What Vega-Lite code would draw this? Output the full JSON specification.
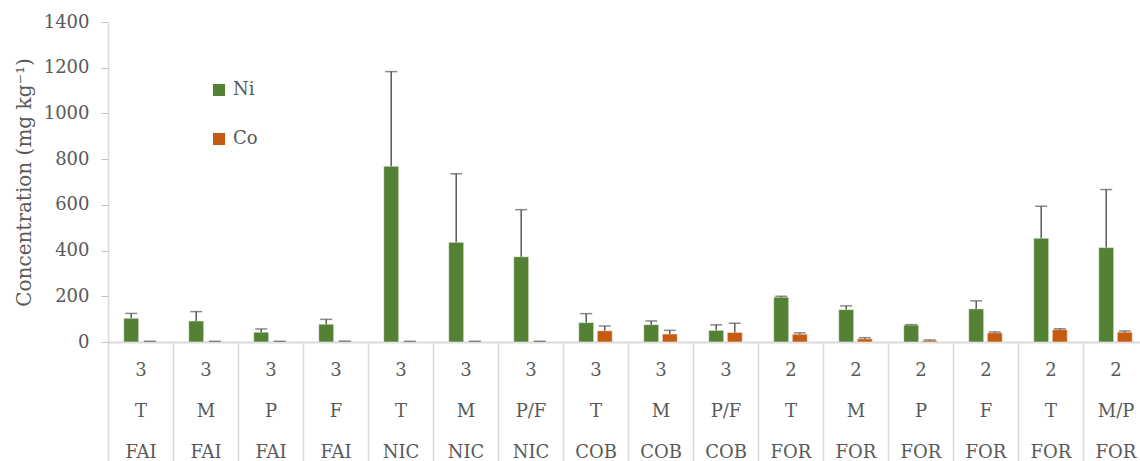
{
  "$schema": "https://vega.github.io/schema/vega-lite/v6.json",
  "width": 1032,
  "height": 320,
  "autosize": {"type": "none"},
  "padding": {"left": 108, "top": 22, "right": 0, "bottom": 119},
  "background": "white",
  "config": {"view": {"stroke": null}, "font": "DejaVu Serif"},
  "data": {
    "values": [
      {"cat": "01|3|T|FAI", "el": "Ni", "value": 104, "hi": 125},
      {"cat": "01|3|T|FAI", "el": "Co", "value": 2, "hi": 3},
      {"cat": "02|3|M|FAI", "el": "Ni", "value": 92, "hi": 133},
      {"cat": "02|3|M|FAI", "el": "Co", "value": 2, "hi": 3},
      {"cat": "03|3|P|FAI", "el": "Ni", "value": 43, "hi": 57},
      {"cat": "03|3|P|FAI", "el": "Co", "value": 2, "hi": 3},
      {"cat": "04|3|F|FAI", "el": "Ni", "value": 78, "hi": 99},
      {"cat": "04|3|F|FAI", "el": "Co", "value": 3, "hi": 4},
      {"cat": "05|3|T|NIC", "el": "Ni", "value": 769, "hi": 1183},
      {"cat": "05|3|T|NIC", "el": "Co", "value": 2, "hi": 3},
      {"cat": "06|3|M|NIC", "el": "Ni", "value": 436, "hi": 736},
      {"cat": "06|3|M|NIC", "el": "Co", "value": 2, "hi": 3},
      {"cat": "07|3|P/F|NIC", "el": "Ni", "value": 373, "hi": 579},
      {"cat": "07|3|P/F|NIC", "el": "Co", "value": 2, "hi": 3},
      {"cat": "08|3|T|COB", "el": "Ni", "value": 85, "hi": 124},
      {"cat": "08|3|T|COB", "el": "Co", "value": 49, "hi": 70},
      {"cat": "09|3|M|COB", "el": "Ni", "value": 76, "hi": 92},
      {"cat": "09|3|M|COB", "el": "Co", "value": 35, "hi": 51},
      {"cat": "10|3|P/F|COB", "el": "Ni", "value": 51, "hi": 75},
      {"cat": "10|3|P/F|COB", "el": "Co", "value": 42, "hi": 82},
      {"cat": "11|2|T|FOR", "el": "Ni", "value": 196, "hi": 200},
      {"cat": "11|2|T|FOR", "el": "Co", "value": 34, "hi": 40},
      {"cat": "12|2|M|FOR", "el": "Ni", "value": 142, "hi": 158},
      {"cat": "12|2|M|FOR", "el": "Co", "value": 14, "hi": 19},
      {"cat": "13|2|P|FOR", "el": "Ni", "value": 74, "hi": 76},
      {"cat": "13|2|P|FOR", "el": "Co", "value": 6, "hi": 9},
      {"cat": "14|2|F|FOR", "el": "Ni", "value": 145, "hi": 180},
      {"cat": "14|2|F|FOR", "el": "Co", "value": 40, "hi": 44},
      {"cat": "15|2|T|FOR", "el": "Ni", "value": 454, "hi": 594},
      {"cat": "15|2|T|FOR", "el": "Co", "value": 54, "hi": 58},
      {"cat": "16|2|M/P|FOR", "el": "Ni", "value": 413, "hi": 667},
      {"cat": "16|2|M/P|FOR", "el": "Co", "value": 43, "hi": 48}
    ]
  },
  "encoding": {
    "x": {
      "field": "cat",
      "type": "nominal",
      "sort": null,
      "scale": {"range": [0, 1040], "paddingInner": 0, "paddingOuter": 0},
      "axis": {
        "title": null,
        "labelAngle": 0,
        "labelExpr": "slice(split(datum.value, '|'), 1)",
        "labelFont": "DejaVu Serif",
        "labelFontSize": 18,
        "labelColor": "#595959",
        "labelLineHeight": 41,
        "labelBaseline": "top",
        "labelPadding": -100,
        "tickBand": "extent",
        "tickSize": 119,
        "tickColor": "#d9d9d9",
        "tickWidth": 1.5,
        "domainColor": "#d9d9d9",
        "domainWidth": 2,
        "labelOverlap": false
      }
    },
    "xOffset": {
      "field": "el",
      "type": "nominal",
      "sort": ["Ni", "Co"],
      "scale": {"paddingInner": 0.194, "paddingOuter": 0.845}
    }
  },
  "layer": [
    {
      "mark": {"type": "bar", "stroke": "white", "strokeWidth": 1, "strokeOpacity": 0.5},
      "encoding": {
        "y": {
          "field": "value",
          "type": "quantitative",
          "scale": {"domain": [0, 1400]},
          "axis": {
            "values": [0, 200, 400, 600, 800, 1000, 1200, 1400],
            "format": "d",
            "title": "Concentration (mg kg⁻¹)",
            "titleFont": "DejaVu Serif",
            "titleFontSize": 20,
            "titleFontWeight": "normal",
            "titleColor": "#595959",
            "titlePadding": 9,
            "labelFont": "DejaVu Serif",
            "labelFontSize": 18,
            "labelColor": "#595959",
            "labelPadding": 12,
            "tickSize": 7,
            "tickColor": "#bfbfbf",
            "domainColor": "#d9d9d9",
            "domainWidth": 1.5,
            "grid": false
          }
        },
        "color": {
          "field": "el",
          "type": "nominal",
          "sort": ["Ni", "Co"],
          "scale": {"domain": ["Ni", "Co"], "range": ["#548235", "#c55a11"]},
          "legend": {
            "title": null,
            "orient": "none",
            "legendX": 102,
            "legendY": 59,
            "padding": 0,
            "symbolType": "square",
            "symbolSize": 144,
            "symbolStrokeWidth": 0,
            "labelFont": "DejaVu Serif",
            "labelFontSize": 18,
            "labelColor": "#595959",
            "labelOffset": 5,
            "rowPadding": 31
          }
        }
      }
    },
    {
      "mark": {"type": "rule", "color": "#595959", "strokeWidth": 1.5},
      "encoding": {
        "y": {"field": "value", "type": "quantitative"},
        "y2": {"field": "hi"}
      }
    },
    {
      "mark": {"type": "tick", "color": "#595959", "thickness": 1.5, "size": 12},
      "encoding": {
        "y": {"field": "hi", "type": "quantitative"}
      }
    }
  ]
}
